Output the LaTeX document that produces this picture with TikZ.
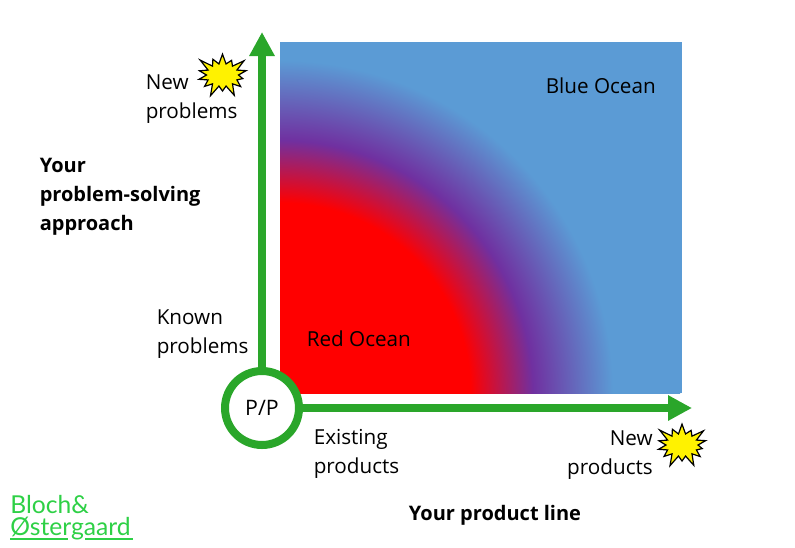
\documentclass[tikz,border=0pt]{standalone}
\usepackage{fontspec}
\setmainfont{Open Sans}
\newfontfamily\logofont{Lato}
\usetikzlibrary{arrows.meta,shapes.symbols}
\definecolor{axisgreen}{RGB}{42,166,42}
\definecolor{oceanblue}{RGB}{91,155,213}
\definecolor{oceanpurple}{RGB}{112,48,160}
\definecolor{logogreen}{RGB}{46,208,70}
\pgfdeclareradialshading{ocean}{\pgfpoint{0bp}{0bp}}{color(0bp)=(red); color(11.9bp)=(red); color(15.8bp)=(oceanpurple); color(20.8bp)=(oceanblue); color(50bp)=(oceanblue)}
\tikzset{
  axisline/.style={line width=6pt,draw=axisgreen,-{Triangle[length=18pt,width=18pt]}},
  label/.style={inner sep=0pt,align=left,font=\fontsize{15.5}{21.75}\selectfont},
  boldlabel/.style={label,font=\fontsize{15}{21.75}\selectfont\bfseries},
  burst/.style={starburst,starburst points=14,starburst point height=10pt,draw=black,fill=yellow,line width=0.9pt,minimum width=44pt,minimum height=37pt,inner sep=0pt},
  logotext/.style={inner sep=0pt,align=left,anchor=west,text=logogreen,font=\fontsize{18.5}{16.5}\logofont\selectfont},
}
\begin{document}
\begin{tikzpicture}[x=0.75pt,y=0.75pt,yscale=-1,xscale=1]
\useasboundingbox (0,0) rectangle (795,547);

% Ocean
\fill[oceanblue] (280,42) rectangle (682,393);
\begin{scope}
\clip (280,42) rectangle (682,393);
\shade[shading=ocean] (280,393) circle (400);
\end{scope}

% Axes
\node[circle,draw=axisgreen,line width=6pt,fill=white,minimum size=55.5pt,inner sep=0pt,font=\fontsize{16}{18}\selectfont] (pp) at (262,408) {P/P};
\coordinate (ytip) at (262,32);
\coordinate (xtip) at (692,408);
\draw[axisline] (pp) -- (ytip);
\draw[axisline] (pp) -- (xtip);

% Labels
\node[label,anchor=west] (newprob) at (145.5,99.5) {New\\problems};
\node[boldlabel,anchor=west] (approach) at (39.5,196.5) {Your\\problem-solving\\approach};
\node[label,anchor=west] (knownprob) at (156.5,334) {Known\\problems};
\node[label,anchor=west] (existprod) at (313.5,454) {Existing\\products};
\node[label,anchor=east,align=right] (newprod) at (653,455) {New\\products};
\node[boldlabel,anchor=center] (prodline) at (495,515) {Your product line};
\node[label,anchor=west] (blue) at (545.5,86) {Blue Ocean};
\node[label,anchor=west] (redo) at (306.5,339) {Red Ocean};

% Stars
\node[burst] (star1) at (222.5,75) {};
\node[burst] (star2) at (682,445) {};

% Logo
\node[logotext] (logo) at (10,518) {Bloch\&\\Østergaard};
\coordinate (u1) at (10,539);
\coordinate (u2) at (68,539);
\coordinate (u3) at (85,539);
\coordinate (u4) at (133,539);
\draw[logogreen,line width=1pt] (u1) -- (u2) (u3) -- (u4);
\end{tikzpicture}
\end{document}
